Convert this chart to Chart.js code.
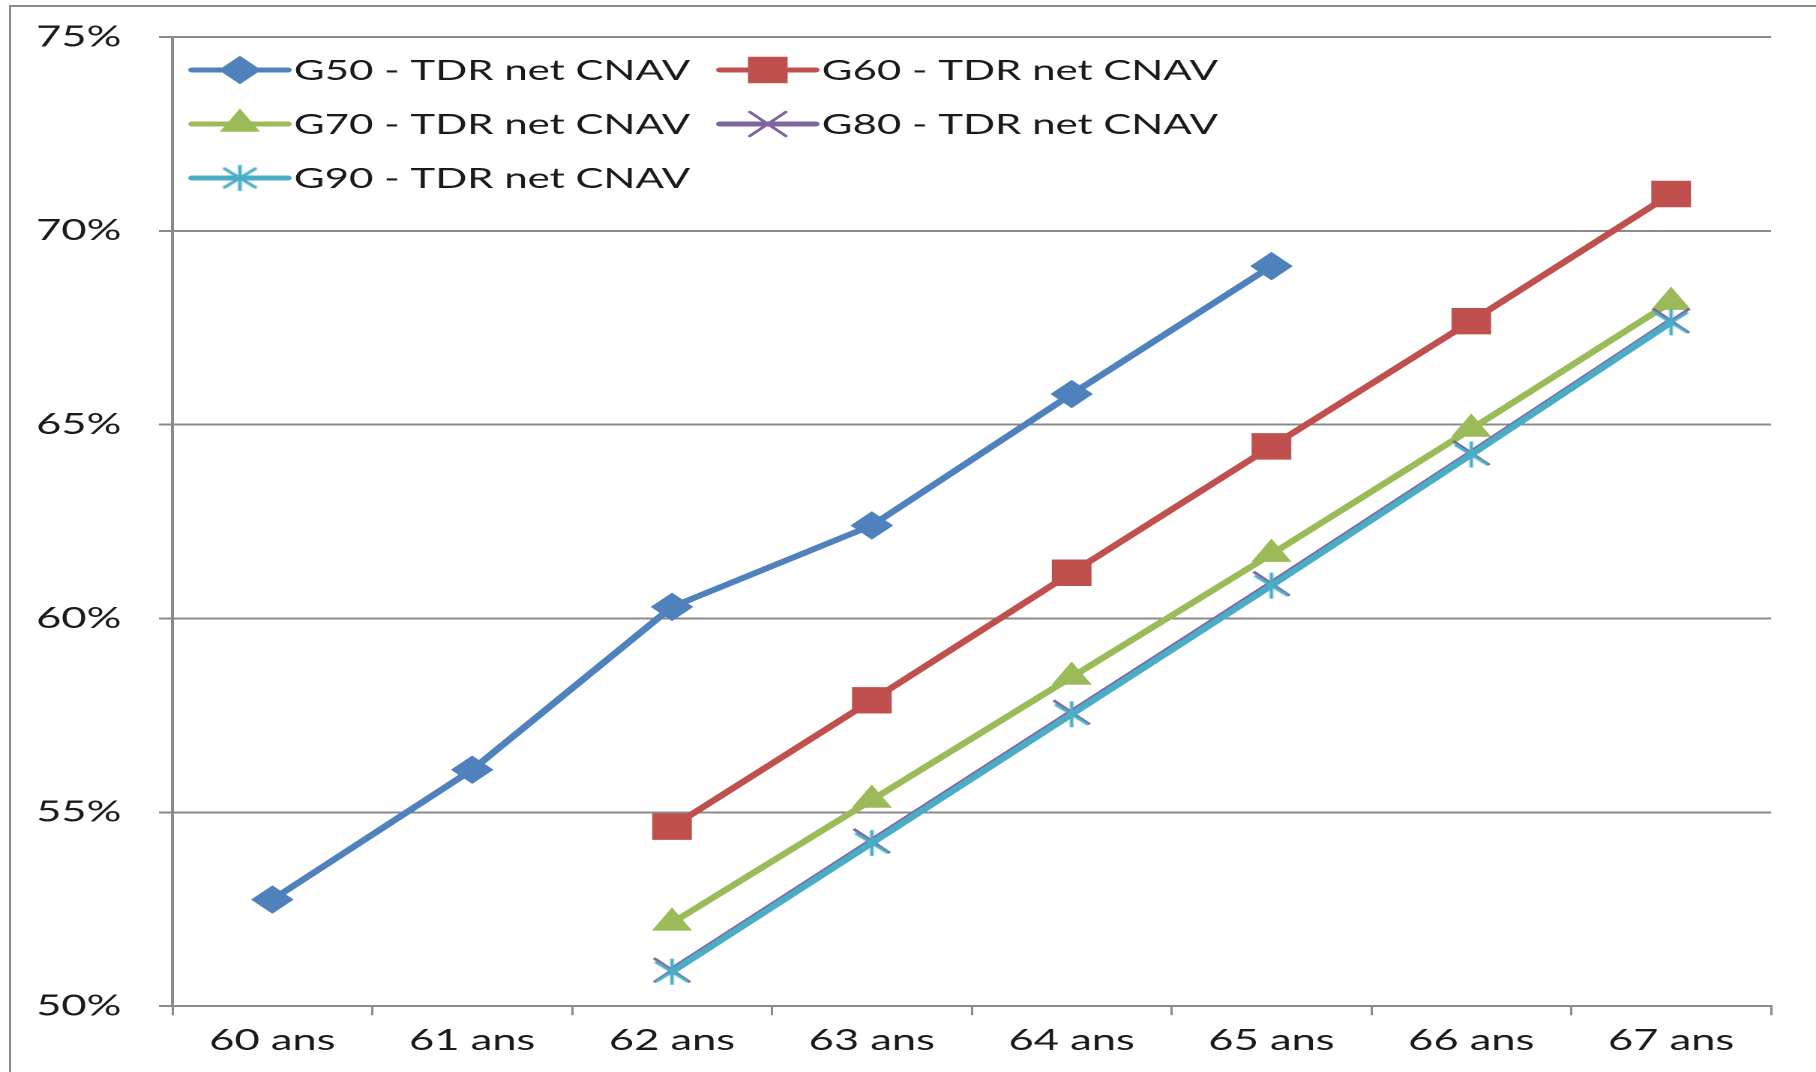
<!DOCTYPE html>
<html lang="fr">
<head>
  <meta charset="UTF-8">
  <title>TDR net CNAV</title>
  <script src="https://cdn.jsdelivr.net/npm/chart.js"></script>
  <style>
    html, body { margin: 0; padding: 0; background: #fff; overflow: hidden; }
    #frame { position: absolute; left: 9px; top: 5px; width: 1900px; height: 1200px;
             border-left: 2px solid #8a8a8a; border-top: 2px solid #8a8a8a; }
    #chart { position: absolute; left: 0; top: 0; }
  </style>
</head>
<body>
  <div id="frame"></div>
  <!-- the source picture is stretched sideways, so the canvas is drawn narrow and widened -->
  <canvas id="chart" width="1211" height="1072" style="width:1816px;height:1072px"></canvas>
  <script>
    const ages = ['60 ans', '61 ans', '62 ans', '63 ans', '64 ans', '65 ans', '66 ans', '67 ans'];
    const g50 = [52.75, 56.1, 60.3, 62.4, 65.79, 69.09, null, null];
    const g60 = [null, null, 54.63, 57.89, 61.18, 64.44, 67.67, 70.95];
    const g70 = [null, null, 52.15, 55.32, 58.49, 61.66, 64.89, 68.16];
    const g80 = [null, null, 50.93, 54.26, 57.58, 60.9, 64.27, 67.68];
    const g90 = [null, null, 50.89, 54.21, 57.53, 60.85, 64.23, 67.64];
    const yTicks = [50, 55, 60, 65, 70, 75];

    function asterisk(color) {
      const c = document.createElement('canvas');
      c.width = 30; c.height = 30;
      const x = c.getContext('2d');
      x.strokeStyle = color; x.lineWidth = 2.4;
      x.beginPath();
      x.moveTo(4, 5); x.lineTo(26, 25);
      x.moveTo(26, 5); x.lineTo(4, 25);
      x.moveTo(15, 2); x.lineTo(15, 28);
      x.stroke();
      return c;
    }

    function series(label, data, color, style, radius, order) {
      return {
        label, data, order,
        borderColor: color, backgroundColor: color,
        borderWidth: 5.5,
        pointStyle: style, pointRadius: radius, pointHoverRadius: radius,
        pointBorderWidth: style === 'crossRot' ? 2.4 : 1,
        pointBackgroundColor: color, pointBorderColor: color,
        tension: 0, spanGaps: false
      };
    }

    const datasets = [
      series('G50 - TDR net CNAV', g50, '#4F81BD', 'rectRot', 13.5, 4),
      series('G60 - TDR net CNAV', g60, '#C0504D', 'rect', 18, 3),
      series('G70 - TDR net CNAV', g70, '#9BBB59', 'triangle', 14.5, 2),
      series('G80 - TDR net CNAV', g80, '#8064A2', 'crossRot', 17, 1),
      series('G90 - TDR net CNAV', g90, '#4BACC6', asterisk('#4BACC6'), 15, 0)
    ];

    // legend inside the plot, two columns like the original
    const innerLegend = {
      id: 'innerLegend',
      afterDraw(chart) {
        const {ctx, chartArea} = chart;
        const cols = [chartArea.left + 13, chartArea.left + 365];
        ctx.save();
        ctx.font = '28px Lato';
        ctx.textBaseline = 'middle';
        ctx.textAlign = 'left';
        datasets.forEach((d, i) => {
          const x = cols[i % 2];
          const y = chartArea.top + 33 + Math.floor(i / 2) * 54;
          ctx.strokeStyle = d.borderColor;
          ctx.lineWidth = 5;
          ctx.lineCap = 'round';
          ctx.beginPath();
          ctx.moveTo(x, y); ctx.lineTo(x + 64, y);
          ctx.stroke();
          ctx.fillStyle = d.backgroundColor;
          ctx.lineWidth = d.pointBorderWidth;
          Chart.helpers.drawPoint(ctx, {pointStyle: d.pointStyle, radius: d.pointRadius, rotation: 0, borderWidth: d.pointBorderWidth}, x + 32, y);
          ctx.fillStyle = '#1a1a1a';
          ctx.fillText(d.label, x + 68, y + 1);
        });
        ctx.restore();
      }
    };

    new Chart(document.getElementById('chart'), {
      type: 'line',
      data: { labels: ages, datasets },
      plugins: [innerLegend],
      options: {
        responsive: false,
        devicePixelRatio: 2,
        animation: false,
        layout: { padding: { left: 0, right: 30, top: 37, bottom: 6 } },
        plugins: { legend: { display: false }, tooltip: { enabled: false } },
        scales: {
          x: {
            offset: true,
            grid: { offset: true, drawOnChartArea: false, drawTicks: true, tickLength: 9, color: '#8a8a8a', lineWidth: 1.5 },
            border: { display: true, color: '#8a8a8a', width: 2 },
            ticks: { font: { family: 'Lato', size: 29 }, color: '#1a1a1a', padding: 8, maxRotation: 0 }
          },
          y: {
            min: 50, max: 75,
            afterFit(scale) {
              scale.width = 115;
              scale.paddingTop = 0;
              scale.paddingBottom = 0;
            },
            afterBuildTicks(scale) { scale.ticks = yTicks.map(v => ({ value: v })); },
            grid: { drawTicks: true, tickLength: 9, color: '#8a8a8a', lineWidth: 2 },
            border: { display: true, color: '#8a8a8a', width: 2 },
            ticks: { font: { family: 'Lato', size: 29 }, color: '#1a1a1a', padding: 25, callback: v => v + '%' }
          }
        }
      }
    });
  </script>
</body>
</html>
